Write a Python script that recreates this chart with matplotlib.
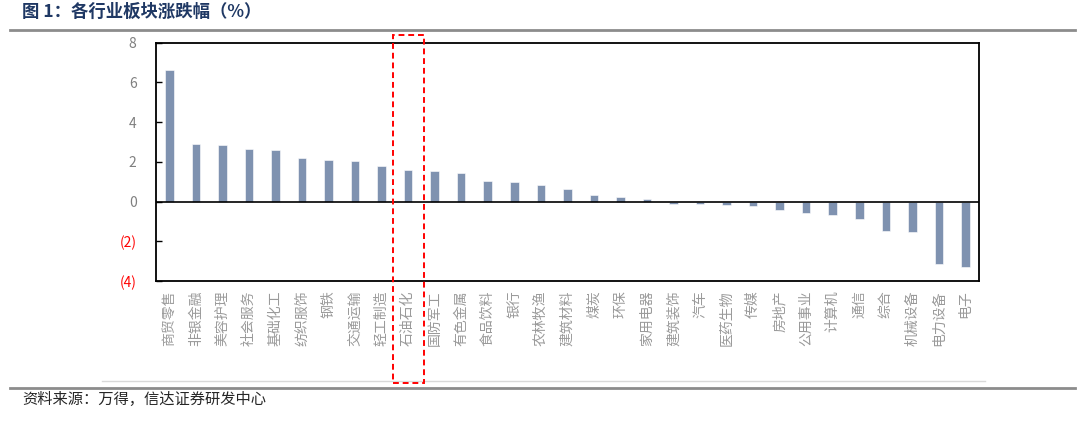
import matplotlib
matplotlib.use("Agg")
import matplotlib.pyplot as plt
from matplotlib.patches import Rectangle
from matplotlib.lines import Line2D

plt.rcParams['font.family'] = ['Noto Sans CJK SC', 'DejaVu Sans']

categories = ["商贸零售", "非银金融", "美容护理", "社会服务", "基础化工", "纺织服饰", "钢铁",
              "交通运输", "轻工制造", "石油石化", "国防军工", "有色金属", "食品饮料", "银行",
              "农林牧渔", "建筑材料", "煤炭", "环保", "家用电器", "建筑装饰", "汽车", "医药生物",
              "传媒", "房地产", "公用事业", "计算机", "通信", "综合", "机械设备", "电力设备", "电子"]
values = [6.63, 2.88, 2.83, 2.65, 2.58, 2.17, 2.08, 2.02, 1.80, 1.60, 1.52, 1.45, 1.03, 1.00,
          0.85, 0.62, 0.33, 0.25, 0.13, -0.12, -0.12, -0.15, -0.20, -0.42, -0.57, -0.67, -0.87,
          -1.50, -1.53, -3.12, -3.27]
yticks = [-4, -2, 0, 2, 4, 6, 8]
ytick_labels = ["(4)", "(2)", "0", "2", "4", "6", "8"]
highlight = "石油石化"

W, H = 1080, 421
fig = plt.figure(figsize=(W / 100, H / 100), dpi=100)

ax = fig.add_axes([156 / W, 1 - 281 / H, (978.7 - 156) / W, (281 - 42.7) / H])
x = list(range(len(categories)))
ax.bar(x, values, width=0.32, color="#7F92B0", edgecolor="white", linewidth=0.4, zorder=2)
ax.axhline(0, color="black", linewidth=1.2, zorder=3)
ax.set_xlim(-0.5, len(categories) - 0.5)
ax.set_ylim(-4, 8)
ax.set_yticks(yticks)
ax.set_yticklabels(ytick_labels)
for lbl, v in zip(ax.get_yticklabels(), yticks):
    lbl.set_color("#FF0000" if v < 0 else "#7F7F7F")
    lbl.set_fontsize(10)
ax.tick_params(axis="y", direction="in", length=4, width=1, pad=14)
ax.set_xticks(x)
ax.set_xticklabels(categories, fontsize=10, color="#9A9A9A", rotation=90,
                   va="top", ha="center")
ax.tick_params(axis="x", length=0, pad=7)
for sp in ax.spines.values():
    sp.set_linewidth(1.3)
    sp.set_color("black")

# highlight box around the highlighted category
x0 = 393.3 / W
x1 = 424.3 / W
rect = Rectangle((x0, 1 - 383 / H), x1 - x0, (383 - 35) / H, transform=fig.transFigure,
                 fill=False, edgecolor="#FF0000", linestyle=(0, (3, 2)), linewidth=1.4, zorder=10)
fig.add_artist(rect)

# title and rules
fig.text(22 / W, 1 - 12 / H, "图 1：各行业板块涨跌幅（%）", fontsize=12.5, fontweight="bold",
         color="#1F3864", va="center", ha="left")
fig.add_artist(Line2D([10 / W, 1075 / W], [1 - 30 / H, 1 - 30 / H], color="#8C8C8C", linewidth=2))
fig.add_artist(Line2D([102 / W, 985 / W], [1 - 381 / H, 1 - 381 / H], color="#D9D9D9", linewidth=1))
fig.add_artist(Line2D([10 / W, 1075 / W], [1 - 387.5 / H, 1 - 387.5 / H], color="#8C8C8C", linewidth=2))
fig.text(22 / W, 1 - 399 / H, "资料来源：万得，信达证券研发中心", fontsize=11, color="#262626",
         va="center", ha="left", fontstyle="italic")

fig.savefig("out.png", dpi=100)
